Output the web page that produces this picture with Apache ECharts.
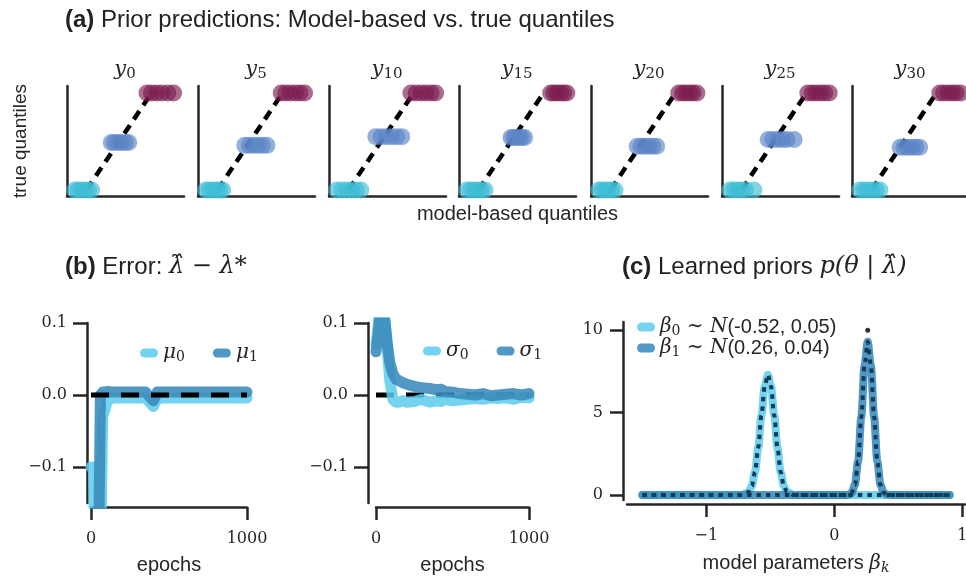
<!DOCTYPE html>
<html>
<head>
<meta charset="utf-8">
<script src="https://cdn.jsdelivr.net/npm/echarts@6/dist/echarts.min.js"></script>
<style>
  html, body { margin: 0; background: #fff; }
  #chart { width: 966px; height: 581px; }
</style>
</head>
<body>
<div id="chart"></div>
<script>
// (a) prior predictions: one small panel per output y_t
const panelNames = ['0', '5', '10', '15', '20', '25', '30']
const trueLow = 0
const trueMid = [0.49, 0.46, 0.55, 0.54, 0.45, 0.52, 0.44]
const trueHigh = 1
// model-based quantile samples (x) for the low / mid / high true quantile
const modelLow = [
  [-0.18, -0.13, -0.08, -0.02, 0.03, 0.08],
  [-0.18, -0.13, -0.07, -0.01, 0.04, 0.08],
  [-0.18, -0.10, -0.02, 0.05, 0.12, 0.19],
  [-0.18, -0.12, -0.06, 0.00, 0.05, 0.10],
  [-0.18, -0.13, -0.08, -0.03, 0.02, 0.07],
  [-0.18, -0.12, -0.06, 0.00, 0.06, 0.19],
  [-0.18, -0.12, -0.06, 0.01, 0.07, 0.13]
]
const modelMid = [
  [0.38, 0.43, 0.49, 0.54, 0.60, 0.65],
  [0.42, 0.49, 0.56, 0.62, 0.69, 0.76],
  [0.42, 0.50, 0.58, 0.66, 0.74, 0.82],
  [0.50, 0.54, 0.58, 0.63, 0.67, 0.71],
  [0.41, 0.47, 0.53, 0.59, 0.65, 0.71],
  [0.41, 0.48, 0.56, 0.63, 0.70, 0.81],
  [0.44, 0.50, 0.56, 0.62, 0.68, 0.74]
]
const modelHigh = [
  [0.93, 1.00, 1.08, 1.16, 1.25, 1.34],
  [0.98, 1.05, 1.12, 1.20, 1.27, 1.34],
  [0.96, 1.04, 1.12, 1.19, 1.27, 1.34],
  [1.11, 1.16, 1.21, 1.26, 1.31, 1.36],
  [1.05, 1.11, 1.16, 1.22, 1.27, 1.33],
  [1.02, 1.09, 1.15, 1.22, 1.28, 1.35],
  [1.05, 1.11, 1.18, 1.24, 1.30, 1.37]
]

// (b) error of the hyperparameters over epochs
const epochs = [0, 15, 30, 45, 60, 75, 90, 110, 130, 150, 175, 200, 250, 300, 350, 400, 425, 450, 500, 550, 600, 650, 700, 750, 800, 850, 900, 950, 1000]
const mu0 = [-0.1, -0.1, -0.3, -0.3, -0.25, -0.03, -0.02, -0.004, -0.005, -0.004, -0.004, -0.004, -0.004, -0.004, -0.004, -0.016, -0.004, -0.004, -0.004, -0.004, -0.004, -0.004, -0.004, -0.004, -0.004, -0.004, -0.004, -0.004, -0.004]
const mu1 = [-0.3, -0.3, -0.3, -0.3, 0.0, 0.004, 0.004, 0.005, 0.004, 0.004, 0.004, 0.004, 0.004, 0.004, 0.004, -0.008, 0.004, 0.004, 0.004, 0.004, 0.004, 0.004, 0.004, 0.004, 0.004, 0.004, 0.004, 0.004, 0.004]
const sigma0 = [0.07, 0.1, 0.13, 0.13, 0.1, 0.06, 0.02, -0.006, -0.01, -0.01, -0.008, -0.01, -0.009, -0.006, -0.01, -0.008, -0.009, -0.006, -0.008, -0.007, -0.006, -0.005, -0.006, -0.004, -0.005, -0.004, -0.006, -0.003, -0.004]
const sigma1 = [0.06, 0.085, 0.12, 0.12, 0.1, 0.07, 0.045, 0.03, 0.022, 0.02, 0.017, 0.015, 0.012, 0.01, 0.009, 0.007, 0.008, 0.005, 0.004, 0.002, 0.001, 0, 0.002, -0.001, 0, 0.001, 0.002, 0, 0.002]

// (c) learned prior densities
const beta0X = [-1.5, -1.0, -0.8, -0.72, -0.67, -0.645, -0.62, -0.595, -0.57, -0.545, -0.52, -0.495, -0.47, -0.445, -0.42, -0.395, -0.37, -0.32, 0, 0.5, 0.9]
const beta0Y = [0, 0, 0, 0.01, 0.18, 0.55, 1.40, 2.88, 4.83, 6.58, 7.30, 6.58, 4.83, 2.88, 1.40, 0.55, 0.18, 0.01, 0, 0, 0]
const beta1X = [-1.5, -0.5, 0, 0.08, 0.11, 0.135, 0.16, 0.185, 0.21, 0.235, 0.26, 0.285, 0.31, 0.335, 0.36, 0.385, 0.41, 0.45, 0.9]
const beta1Y = [0, 0, 0, 0, 0.02, 0.14, 0.62, 2.03, 4.73, 7.86, 9.30, 7.86, 4.73, 2.03, 0.62, 0.14, 0.02, 0, 0]
const truePoint = [0.26, 10]

const serif = "'DejaVu Serif', serif"
const sans = "'Liberation Sans', Arial, sans-serif"
const ink = '#262626'
const light = 'rgba(92,205,236,0.85)'
const dark = 'rgba(58,138,188,0.88)'
const pill = 'path://M5,0H15A5,5,0,0,1,15,10H5A5,5,0,0,1,5,0Z'
const minus = v => String(v).replace('-', '−')

const spine = { show: true, onZero: false, lineStyle: { color: ink, width: 2.5 } }
const tick = len => ({ show: true, length: len, lineStyle: { color: ink, width: 2.5 } })
const noSplit = { show: false }

const grid = [], xAxis = [], yAxis = [], series = [], title = []

// top row
const panelLeft = [67, 198, 329, 459, 591, 722, 852]
const subRich = {
  y: { fontFamily: serif, fontStyle: 'italic', fontWeight: 'normal', fontSize: 21, color: ink },
  s: { fontFamily: serif, fontWeight: 'normal', fontSize: 15, color: ink, padding: [9, 0, 0, 0] }
}
panelNames.forEach((name, i) => {
  grid.push({ left: panelLeft[i], top: 86, width: 117, height: 110, outerBoundsMode: 'none' })
  xAxis.push({
    gridIndex: i, type: 'value', min: -0.3, max: 1.5,
    axisLine: spine, axisTick: { show: false }, axisLabel: { show: false }, splitLine: noSplit,
    name: i === 3 ? 'model-based quantiles' : '', nameLocation: 'middle', nameGap: 8,
    nameTextStyle: { fontFamily: sans, fontSize: 20, color: ink, verticalAlign: 'top' }
  })
  yAxis.push({
    gridIndex: i, type: 'value', min: -0.062, max: 1.072,
    axisLine: spine, axisTick: { show: false }, axisLabel: { show: false }, splitLine: noSplit,
    name: i === 0 ? 'true quantiles' : '', nameLocation: 'middle', nameGap: 37,
    nameTextStyle: { fontFamily: sans, fontSize: 19, color: ink }
  })
  title.push({
    text: '{y|y}{s|' + name + '}', left: panelLeft[i] + 58, top: 58, textAlign: 'center', padding: 0,
    textStyle: { rich: subRich }
  })
  series.push({
    type: 'line', xAxisIndex: i, yAxisIndex: i, silent: true, symbol: 'none', z: 2,
    data: [[trueLow, trueLow], [trueHigh, trueHigh]],
    lineStyle: { color: '#000', width: 4.5, type: [10, 7] }
  })
  const groups = [[modelLow[i], trueLow, '#3dbdd6'], [modelMid[i], trueMid[i], '#5a84c6'], [modelHigh[i], trueHigh, '#7d1d52']]
  groups.forEach(([xs, y, c]) => {
    series.push({
      type: 'scatter', xAxisIndex: i, yAxisIndex: i, silent: true, z: 3,
      data: xs.map(x => [x, y]), symbolSize: 17,
      itemStyle: { color: c, opacity: 0.65 }
    })
  })
})

// panel (b) and (c) axes
const errGrids = [
  { left: 91, width: 156, yOffset: 4 },
  { left: 376, width: 153, yOffset: 8 }
]
const labelStyle = { fontFamily: serif, fontSize: 16, color: ink }
errGrids.forEach((g, k) => {
  const gi = 7 + k
  grid.push({ left: g.left, top: 323, width: g.width, height: 180, outerBoundsMode: 'none' })
  xAxis.push({
    gridIndex: gi, type: 'value', min: 0, max: 1000, offset: 4,
    axisLine: spine, axisTick: Object.assign(tick(13), { customValues: [0, 1000] }),
    axisLabel: Object.assign({ customValues: [0, 1000], margin: 24, formatter: v => String(v) }, labelStyle),
    splitLine: noSplit,
    name: 'epochs', nameLocation: 'middle', nameGap: 48,
    nameTextStyle: { fontFamily: sans, fontSize: 20, color: ink }
  })
  yAxis.push({
    gridIndex: gi, type: 'value', min: -0.15, max: 0.1, offset: g.yOffset,
    axisLine: spine, axisTick: Object.assign(tick(14), { customValues: [-0.1, 0, 0.1] }),
    axisLabel: Object.assign({ customValues: [-0.1, 0, 0.1], margin: 20, formatter: v => minus(Number(v).toFixed(1)) }, labelStyle),
    splitLine: noSplit
  })
})

grid.push({ left: 627, top: 322, width: 338, height: 178, outerBoundsMode: 'none' })
xAxis.push({
  gridIndex: 9, type: 'value', min: -1.62, max: 1.02, offset: 4,
  axisLine: spine, axisTick: Object.assign(tick(13), { customValues: [-1, 0, 1] }),
  axisLabel: Object.assign({ customValues: [-1, 0, 1], margin: 24, formatter: v => minus(v) }, labelStyle),
  splitLine: noSplit,
  name: '{s|model parameters }{m|β}{k|k}', nameLocation: 'middle', nameGap: 48,
  nameTextStyle: {
    rich: {
      s: { fontFamily: sans, fontSize: 20, color: ink },
      m: { fontFamily: serif, fontStyle: 'italic', fontSize: 20, color: ink },
      k: { fontFamily: serif, fontStyle: 'italic', fontSize: 14, color: ink, padding: [9, 0, 0, 0] }
    }
  }
})
yAxis.push({
  gridIndex: 9, type: 'value', min: -0.3, max: 10.5, offset: 4,
  axisLine: spine, axisTick: Object.assign(tick(13), { customValues: [0, 5, 10] }),
  axisLabel: Object.assign({ customValues: [0, 5, 10], margin: 20 }, labelStyle),
  splitLine: noSplit
})

// panel (b) series
const zeroLine = (gi, z) => ({
  type: 'line', xAxisIndex: gi, yAxisIndex: gi, silent: true, symbol: 'none', z,
  data: [[0, 0], [1000, 0]], lineStyle: { color: '#000', width: 5, type: [18, 12] }
})
const errLine = (gi, name, vals, color, z) => ({
  type: 'line', name, xAxisIndex: gi, yAxisIndex: gi, symbol: 'none', z, color,
  data: epochs.map((e, j) => [e, vals[j]]),
  lineStyle: { color, width: 11, cap: 'round', join: 'round' }
})
series.push(errLine(7, 'mu0', mu0, light, 3))
series.push(errLine(7, 'mu1', mu1, dark, 4))
series.push(zeroLine(7, 5))
series.push(zeroLine(8, 2))
series.push(errLine(8, 'sigma0', sigma0, light, 3))
series.push(errLine(8, 'sigma1', sigma1, dark, 4))

// panel (c) series
const density = (name, xs, ys, color, width, z, dash) => ({
  type: 'line', name, xAxisIndex: 9, yAxisIndex: 9, symbol: 'none', z, color,
  smooth: 0.3, smoothMonotone: 'x',
  data: xs.map((x, j) => [x, ys[j]]),
  lineStyle: { color, width, cap: dash ? 'butt' : 'round', join: 'round', type: dash || 'solid' }
})
series.push(density('beta0', beta0X, beta0Y, light, 8, 2))
series.push(density('beta1', beta1X, beta1Y, dark, 8, 3))
series.push(density('beta0 dotted', beta0X, beta0Y, '#123b57', 4, 4, [4.5, 5]))
series.push(density('beta1 dotted', beta1X, beta1Y, '#123b57', 4, 4, [4.5, 5]))
series.push({
  type: 'scatter', xAxisIndex: 9, yAxisIndex: 9, silent: true, z: 5,
  data: [truePoint], symbolSize: 5, itemStyle: { color: '#000' }
})

// titles
const titleRich = {
  b: { fontFamily: sans, fontWeight: 'bold', fontSize: 24, color: '#222' },
  t: { fontFamily: sans, fontWeight: 'normal', fontSize: 24, color: '#222' },
  m: { fontFamily: serif, fontStyle: 'italic', fontWeight: 'normal', fontSize: 24, color: '#222' }
}
const titleText = { fontWeight: 'normal', rich: titleRich }
title.push({ text: '{b|(a)}{t| Prior predictions: Model-based vs. true quantiles}', left: 65, top: 8, padding: 0, textStyle: titleText })
title.push({ text: '{b|(b)}{t| Error: }{m|λ̂ − λ*}', left: 65, top: 255, padding: 0, textStyle: titleText })
title.push({ text: '{b|(c)}{t| Learned priors }{m|p(θ | λ̂)}', left: 622, top: 255, padding: 0, textStyle: titleText })

const legendRich = {
  m: { fontFamily: serif, fontStyle: 'italic', fontSize: 20, color: ink },
  s: { fontFamily: serif, fontSize: 14, color: ink, padding: [8, 0, 0, 0] },
  t: { fontFamily: sans, fontSize: 20, color: ink }
}
const legendBase = {
  icon: pill, itemWidth: 18, itemHeight: 10, padding: 0, selectedMode: false,
  textStyle: { rich: legendRich }
}
const legendLabels = {
  mu0: '{m|μ}{s|0}', mu1: '{m|μ}{s|1}', sigma0: '{m|σ}{s|0}', sigma1: '{m|σ}{s|1}',
  beta0: '{m|β}{s|0}{m| ∼ N}{t|(-0.52, 0.05)}', beta1: '{m|β}{s|1}{m| ∼ N}{t|(0.26, 0.04)}'
}
const fmt = n => legendLabels[n]

const option = {
  backgroundColor: '#fff',
  animation: false,
  title,
  grid,
  xAxis,
  yAxis,
  legend: [
    Object.assign({ data: ['mu0', 'mu1'], left: 140, top: 343, itemGap: 28, formatter: fmt }, legendBase),
    Object.assign({ data: ['sigma0', 'sigma1'], left: 423, top: 341, itemGap: 28, formatter: fmt }, legendBase),
    Object.assign({ data: ['beta0', 'beta1'], left: 637, top: 317, orient: 'vertical', itemGap: 0, formatter: fmt }, legendBase)
  ],
  series
}

const chart = echarts.init(document.getElementById('chart'))
chart.setOption(option)
</script>
</body>
</html>
